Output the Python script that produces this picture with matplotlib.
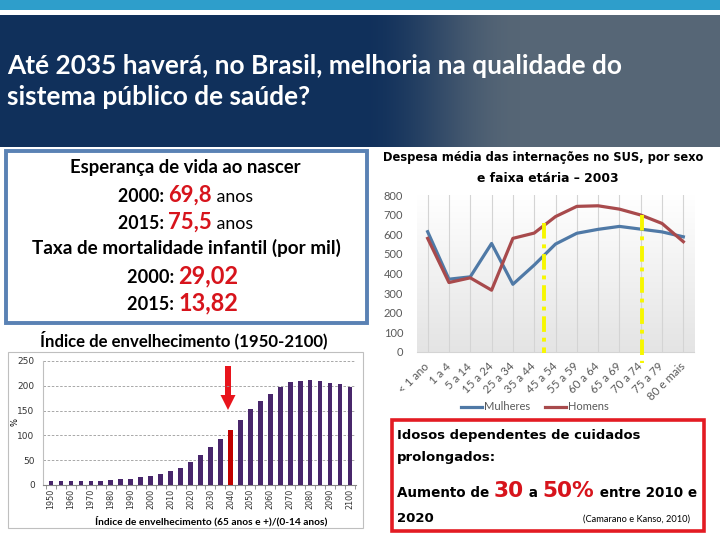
import numpy as np
import matplotlib
matplotlib.use("Agg")
import matplotlib.pyplot as plt
from matplotlib.patches import Rectangle, FancyArrow
from matplotlib.colors import to_rgb

# ---------------- data ----------------
bar_years = ["1950", "1955", "1960", "1965", "1970", "1975", "1980", "1985", "1990", "1995",
             "2000", "2005", "2010", "2015", "2020", "2025", "2030", "2035", "2040", "2045",
             "2050", "2055", "2060", "2065", "2070", "2075", "2080", "2085", "2090", "2095", "2100"]
bar_values = [8, 8, 8, 8.5, 8.5, 9, 10.5, 12, 13, 16, 18, 22, 28, 35, 46, 60, 76, 93, 111, 132,
              153, 170, 183, 197, 208, 210, 211, 209, 206, 203, 197]
highlight_year = "2040"
bar_yticks = [0, 50, 100, 150, 200, 250]

age_groups = ["< 1 ano", "1 a 4", "5 a 14", "15 a 24", "25 a 34", "35 a 44", "45 a 54",
              "55 a 59", "60 a 64", "65 a 69", "70 a 74", "75 a 79", "80 e mais"]
mulheres = [613, 371, 383, 553, 345, 443, 550, 605, 625, 640, 626, 612, 587]
homens = [579, 354, 378, 315, 579, 606, 690, 742, 745, 728, 698, 655, 562]
line_yticks = [0, 100, 200, 300, 400, 500, 600, 700, 800]
# yellow marker lines: (category position, top value, bottom value)
yellow_marks = [(5.46, 655, -5), (10.07, 700, -55)]

# ---------------- figure ----------------
W, H = 720, 540
fig = plt.figure(figsize=(W / 100, H / 100), dpi=100)
fig.patch.set_facecolor("white")

bg = fig.add_axes([0, 0, 1, 1])
bg.set_xlim(0, W)
bg.set_ylim(H, 0)
bg.axis("off")
renderer = fig.canvas.get_renderer()

CAL = ["Lato", "DejaVu Sans"]
TAH = ["DejaVu Sans"]


def px_axes(l, t, r, b):
    return fig.add_axes([l / W, 1 - b / H, (r - l) / W, (b - t) / H])


def fit_text(x, y, s, width, base=10, **kw):
    t = bg.text(x, y, s, fontsize=base, **kw)
    w = t.get_window_extent(renderer).width
    t.set_fontsize(base * width / w)
    return t


def seg_line(x0, x1, y, segs, family):
    texts, widths = [], []
    for s, rs, c, wgt in segs:
        t = bg.text(0, y, s, fontsize=10 * rs, color=c, weight=wgt, family=family,
                    va="baseline", ha="left")
        widths.append(t.get_window_extent(renderer).width)
        texts.append(t)
    scale = (x1 - x0) / sum(widths)
    x = x0
    for t, w in zip(texts, widths):
        t.set_fontsize(t.get_fontsize() * scale)
        t.set_x(x)
        x += w * scale


# top stripe and banner
bg.add_patch(Rectangle((0, 0), W, 10, color="#2e9ecb", lw=0))
c1 = np.array(to_rgb("#10305b"))
c2 = np.array(to_rgb("#566676"))
xs = np.linspace(0, W, 720)
f = np.clip((xs - 360) / 160, 0, 1)
f = f * f * (3 - 2 * f)
grad = (c1[None, :] * (1 - f[:, None]) + c2[None, :] * f[:, None])[None, :, :]
bg.imshow(grad, extent=[0, W, 147, 15], aspect="auto", zorder=1)
bg.set_xlim(0, W)
bg.set_ylim(H, 0)

t1 = fit_text(7, 66, "Até 2035 haverá, no Brasil, melhoria na qualidade do", 615,
              color="white", weight="bold", family=CAL, va="center", ha="left", zorder=3)
bg.text(7, 97, "sistema público de saúde?", fontsize=t1.get_fontsize(), color="white",
        weight="bold", family=CAL, va="center", ha="left", zorder=3)

# left info box
bg.add_patch(Rectangle((5.5, 150.5), 361, 172, fill=False, ec="#5a82b4", lw=2.8, zorder=3))
RED = "#d7141c"
fit_text(70, 167, "Esperança de vida ao nascer", 232, color="black", weight="bold",
         family=CAL, va="center", ha="left")
seg_line(118, 253, 202, [("2000: ", 1.0, "black", "bold"), ("69,8", 1.25, RED, "bold"),
                         (" anos", 1.0, "black", "normal")], CAL)
seg_line(118, 253, 229, [("2015: ", 1.0, "black", "bold"), ("75,5", 1.25, RED, "bold"),
                         (" anos", 1.0, "black", "normal")], CAL)
fit_text(32, 248, "Taxa de mortalidade infantil (por mil)", 308, color="black", weight="bold",
         family=CAL, va="center", ha="left")
seg_line(127, 238, 283, [("2000: ", 1.0, "black", "bold"), ("29,02", 1.3, RED, "bold")], CAL)
seg_line(127, 238, 310, [("2015: ", 1.0, "black", "bold"), ("13,82", 1.3, RED, "bold")], CAL)

fit_text(40, 340, "Índice de envelhecimento (1950-2100)", 290, color="black", weight="bold",
         family=CAL, va="center", ha="left")

# bar chart frame
bg.add_patch(Rectangle((8, 352), 355, 176, fill=False, ec="#bfbfbf", lw=0.8))

axb = px_axes(43, 361, 356, 485)
xb = np.arange(len(bar_years))
colors = ["#c00000" if y == highlight_year else "#48266b" for y in bar_years]
axb.bar(xb, bar_values, width=0.47, color=colors, zorder=3)
axb.set_xlim(-0.8, len(bar_years) - 0.4)
axb.set_ylim(0, 250)
axb.set_yticks(bar_yticks)
axb.set_yticklabels([str(v) for v in bar_yticks], fontsize=6.5, family="DejaVu Sans", color="#333333")
axb.set_xticks(xb[::2])
axb.set_xticklabels(bar_years[::2], rotation=90, fontsize=5.8, family="DejaVu Sans", color="#333333")
axb.set_xticks(np.arange(-0.5, len(bar_years), 1), minor=True)
axb.tick_params(axis="x", which="major", length=0, pad=3)
axb.tick_params(axis="x", which="minor", length=3, color="#868686")
axb.tick_params(axis="y", length=0, pad=6)
for v in bar_yticks[1:]:
    axb.axhline(v, color="#9a9a9a", lw=0.6, ls=(0, (3, 2)), zorder=1)
for s in ["top", "right"]:
    axb.spines[s].set_visible(False)
axb.spines["left"].set_color("#bfbfbf")
axb.spines["bottom"].set_color("#868686")
axb.patch.set_alpha(0)
bg.text(15, 422, "%", rotation=90, fontsize=6, va="center", ha="center", family="DejaVu Sans")
fit_text(95, 521, "Índice de envelhecimento (65 anos e +)/(0-14 anos)", 232, color="black",
         weight="bold", family=CAL, va="center", ha="left")

# red arrow
bg.add_artist(FancyArrow(228, 366, 0, 44, width=6, head_width=15, head_length=15,
                         length_includes_head=True, color="#e8141c", lw=0, zorder=5))

# line chart
fit_text(383, 158, "Despesa média das internações no SUS, por sexo", 322, color="black",
         weight="bold", family=TAH, va="center", ha="left")
fit_text(477, 178, "e faixa etária – 2003", 143, color="black",
         weight="bold", family=TAH, va="center", ha="left")

axl = px_axes(417, 195, 694, 352)
xl = np.arange(len(age_groups))
g = np.linspace(0, 1, 256)[:, None]
top_c = np.array([1.0, 1.0, 1.0])
bot_c = np.array(to_rgb("#e4e4e4"))
gimg = (top_c[None, None, :] * (1 - g[:, :, None]) + bot_c[None, None, :] * g[:, :, None])
axl.imshow(gimg, extent=[-0.5, len(age_groups) - 0.5, 0, 800], aspect="auto", zorder=0)
for xv in xl:
    axl.axvline(xv, color="#d4d4d4", lw=0.8, zorder=1)
axl.plot(xl, mulheres, color="#4f79a6", lw=2.3, label="Mulheres", zorder=4)
axl.plot(xl, homens, color="#a84a4c", lw=2.3, label="Homens", zorder=4)
for xv, top, bot in yellow_marks:
    axl.plot([xv, xv], [top, bot], color="#f7f700", lw=2.8, ls=(0, (4, 1.5, 1, 1.5)),
             zorder=5, clip_on=False)
axl.set_xlim(-0.5, len(age_groups) - 0.5)
axl.set_ylim(0, 800)
axl.set_yticks(line_yticks)
axl.set_yticklabels([str(v) for v in line_yticks], fontsize=8, family=CAL, color="#595959")
axl.set_xticks(xl)
axl.set_xticklabels(age_groups, rotation=45, ha="right", va="center", rotation_mode="anchor",
                    fontsize=8.3, family=CAL, color="#595959")
axl.tick_params(axis="both", length=0)
axl.tick_params(axis="x", pad=9)
axl.tick_params(axis="y", pad=10)
for s in ["top", "right", "left"]:
    axl.spines[s].set_visible(False)
axl.spines["bottom"].set_color("#d4d4d4")
leg = axl.legend(loc="center", bbox_to_anchor=(535 / W, 1 - 407 / H), bbox_transform=fig.transFigure,
                 ncol=2, frameon=False, handlelength=1.9, handletextpad=0.2, columnspacing=1.3,
                 prop={"family": CAL, "size": 8})
for txt in leg.get_texts():
    txt.set_color("#595959")

# red box
bg.add_patch(Rectangle((391.5, 419.5), 312.5, 111.5, fill=False, ec="#e31b23", lw=2.6, zorder=3))
fit_text(397, 435, "Idosos dependentes de cuidados", 243, color="black", weight="bold",
         family=TAH, va="center", ha="left")
tp = fit_text(397, 457, "prolongados:", 98, color="black", weight="bold",
              family=TAH, va="center", ha="left")
seg_line(397, 697, 497, [("Aumento de ", 1.0, "black", "bold"), ("30", 1.6, RED, "bold"),
                         (" a ", 1.0, "black", "bold"), ("50%", 1.6, RED, "bold"),
                         (" entre 2010 e", 1.0, "black", "bold")], TAH)
bg.text(397, 522, "2020", fontsize=tp.get_fontsize(), color="black", weight="bold",
        family=TAH, va="baseline", ha="left")
fit_text(583, 519, "(Camarano e Kanso, 2010)", 107, color="black", family=CAL,
         va="center", ha="left")

fig.savefig("out.png", dpi=100)
